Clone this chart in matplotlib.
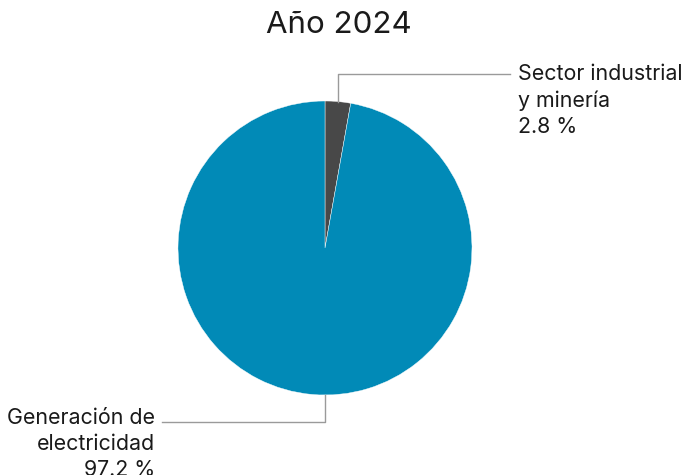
import math
import matplotlib
matplotlib.use('Agg')
import matplotlib.pyplot as plt

plt.rcParams['font.family'] = ['Inter', 'DejaVu Sans']

# data
sectors = ['Sector industrial\ny minería', 'Generación de\nelectricidad']
shares = [2.8, 97.2]
colors = ['#484848', '#018AB7']
title = 'Año 2024'

LINE_RGB = '#9A9A9A'
TEXT_RGB = '#1A1A1A'

fig = plt.figure(figsize=(6.9, 4.75), dpi=100)
W, H = 690, 475
cx, cy, r = 325, 248, 147
ax = fig.add_axes([(cx - r) / W, (H - cy - r) / H, 2 * r / W, 2 * r / H])
ax.pie(shares, colors=colors, startangle=90, counterclock=False, radius=1,
       wedgeprops=dict(edgecolor='white', linewidth=0.3))
ax.set_xlim(-1, 1)
ax.set_ylim(-1, 1)
ax.set_aspect('equal')
ax.axis('off')

fig.text(339 / W, 1 - 25 / H, title, ha='center', va='center', fontsize=22.5, color=TEXT_RGB)

def px(x, y):
    return (x - cx) / r, (cy - y) / r

# leader for the small slice, from its midpoint on the rim
mid = math.radians(90 - shares[0] / 100 * 360 / 2)
x0, y0 = math.cos(mid), math.sin(mid)
xa, ya = px(510, 74)
ax.plot([x0, x0, xa], [y0, ya, ya], color=LINE_RGB, lw=1, clip_on=False)
tx, ty = px(518, 64)
ax.text(tx, ty, f'{sectors[0]}\n{shares[0]:.1f} %', ha='left', va='top',
        fontsize=15.4, color=TEXT_RGB, linespacing=1.38)

# leader for the large slice, from the bottom of the pie
xb, yb = px(162, 422)
ax.plot([0, 0, xb], [-1, yb, yb], color=LINE_RGB, lw=1, clip_on=False)
tx, ty = px(155, 408)
ax.text(tx, ty, f'{sectors[1]}\n{shares[1]:.1f} %', ha='right', va='top',
        fontsize=15.4, color=TEXT_RGB, linespacing=1.38)

fig.savefig('out.png', dpi=100)
